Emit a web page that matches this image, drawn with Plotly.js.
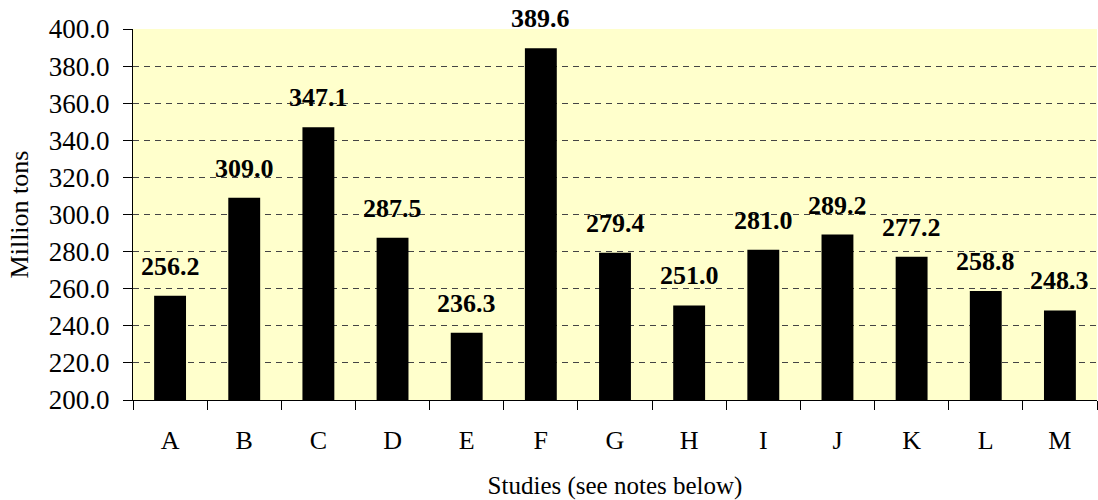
<!DOCTYPE html>
<html>
<head>
<meta charset="utf-8">
<script src="https://cdn.plot.ly/plotly-3.0.1.min.js"></script>
<style>html,body{margin:0;padding:0;background:#fff;}#chart{width:1098px;height:500px;}</style>
</head>
<body>
<div id="chart"></div>
<script>
const categories = ["A","B","C","D","E","F","G","H","I","J","K","L","M"];
const values = [256.2, 309.0, 347.1, 287.5, 236.3, 389.6, 279.4, 251.0, 281.0, 289.2, 277.2, 258.8, 248.3];
const yTickVals = [200,220,240,260,280,300,320,340,360,380,400];

const FONT = '"Liberation Serif", "Times New Roman", Times, serif';

const trace = {
  type: "bar",
  x: categories,
  y: values,
  marker: {color: "#000000", line: {width: 0}},
  hoverinfo: "none"
};

const annotations = categories.map((c, i) => ({
  x: c, y: values[i], xref: "x", yref: "y",
  text: "<b>" + values[i].toFixed(1) + "</b>",
  showarrow: false, yanchor: "bottom", yshift: 13,
  font: {family: FONT, size: 26, color: "#000"}
}));

const layout = {
  width: 1098, height: 500,
  margin: {l: 133, r: 1, t: 29, b: 100},
  paper_bgcolor: "#ffffff",
  plot_bgcolor: "#ffffcc",
  bargap: 0.57,
  showlegend: false,
  font: {family: FONT, size: 26, color: "#000"},
  xaxis: {
    type: "category",
    showline: true, linecolor: "#000", linewidth: 1,
    ticks: "outside", ticklen: 9, tickcolor: "#000", tickson: "boundaries",
    showgrid: false,
    tickfont: {family: FONT, size: 26},
    ticklabelstandoff: 17,
    title: {text: "Studies (see notes below)", font: {family: FONT, size: 25}, standoff: 24}
  },
  yaxis: {
    range: [200, 400],
    tickvals: yTickVals,
    ticktext: yTickVals.map(v => v.toFixed(1)),
    showline: true, linecolor: "#000", linewidth: 1,
    ticks: "outside", ticklen: 9, tickcolor: "#000",
    showgrid: true, gridcolor: "#444444", griddash: "6px,5px", gridwidth: 1,
    zeroline: false,
    tickfont: {family: FONT, size: 27},
    ticklabelstandoff: 8,
    title: {text: "Million tons", font: {family: FONT, size: 26}, standoff: 12}
  },
  annotations: annotations
};

Plotly.newPlot("chart", [trace], layout, {displayModeBar: false, staticPlot: true});
</script>
</body>
</html>
